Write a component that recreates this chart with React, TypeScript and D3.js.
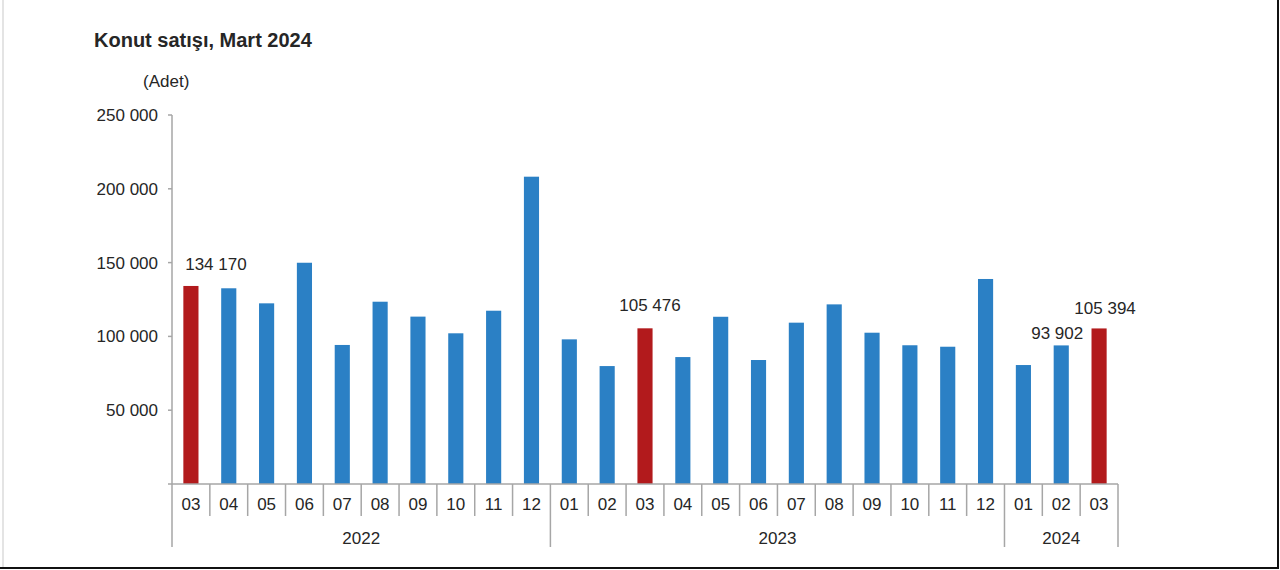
import { useEffect, useRef } from 'react';
import * as d3 from 'd3';

const months = ['03', '04', '05', '06', '07', '08', '09', '10', '11', '12',
  '01', '02', '03', '04', '05', '06', '07', '08', '09', '10', '11', '12',
  '01', '02', '03'];
const years = ['2022', '2022', '2022', '2022', '2022', '2022', '2022', '2022', '2022', '2022',
  '2023', '2023', '2023', '2023', '2023', '2023', '2023', '2023', '2023', '2023', '2023', '2023',
  '2024', '2024', '2024'];
const sales = [134170, 132600, 122400, 149900, 94200, 123500, 113400, 102100, 117400, 208200,
  98000, 79900, 105476, 86000, 113300, 84000, 109300, 121700, 102500, 94000, 93000, 138900,
  80600, 93902, 105394];
// months drawn in red (same month as the report)
const highlighted = [0, 12, 24];
// bars with a value label
const labelled = [0, 12, 23, 24];
const yTicks = [50000, 100000, 150000, 200000, 250000];

const BLUE = '#2b80c5';
const RED = '#b21a1c';
const AXIS = '#a6a6a6';
const TEXT = '#262626';
const FONT = '"Liberation Sans", Arial, sans-serif';

function App() {
  const svgRef = useRef<SVGSVGElement>(null);

  useEffect(() => {
    if (!svgRef.current) return;
    const svg = d3.select(svgRef.current);
    svg.selectAll('*').remove();

    const width = 1280;
    const height = 570;
    const left = 172;
    const right = 1118;
    const top = 115;
    const bottom = 484;

    svg.attr('viewBox', `0 0 ${width} ${height}`);

    svg.append('rect').attr('width', width).attr('height', height).attr('fill', '#fff');

    // frame edges
    svg.append('line').attr('x1', 3).attr('x2', 3).attr('y1', 0).attr('y2', 567)
      .attr('stroke', '#e4e4e4').attr('stroke-width', 2);
    svg.append('line').attr('x1', 0).attr('x2', 1279).attr('y1', 568).attr('y2', 568)
      .attr('stroke', '#111').attr('stroke-width', 2);
    svg.append('line').attr('x1', 1278).attr('x2', 1278).attr('y1', 0).attr('y2', 569)
      .attr('stroke', '#111').attr('stroke-width', 2);

    const idx = months.map((_, i) => String(i));
    const x = d3.scaleBand<string>().domain(idx).range([left, right]).paddingInner(0.6).paddingOuter(0.3);
    const step = x.step();
    const y = d3.scaleLinear().domain([0, 250000]).range([bottom, top]);
    const fmt = (v: number) => d3.format(',')(v).replace(/,/g, ' ');

    // title
    svg.append('text').attr('x', 94).attr('y', 47)
      .attr('font-family', FONT).attr('font-size', 20).attr('font-weight', 'bold')
      .attr('fill', TEXT).text('Konut satışı, Mart 2024');
    svg.append('text').attr('x', 143).attr('y', 87)
      .attr('font-family', FONT).attr('font-size', 17)
      .attr('fill', TEXT).text('(Adet)');

    // y axis
    svg.append('line').attr('x1', left).attr('x2', left).attr('y1', y(250000)).attr('y2', bottom)
      .attr('stroke', AXIS).attr('stroke-width', 1.5);
    const ticks = svg.append('g');
    ticks.selectAll('line').data(yTicks).enter().append('line')
      .attr('x1', left - 4).attr('x2', left).attr('y1', d => y(d)).attr('y2', d => y(d))
      .attr('stroke', AXIS).attr('stroke-width', 1.5);
    ticks.selectAll('text').data(yTicks).enter().append('text')
      .attr('x', left - 14).attr('y', d => y(d)).attr('dy', '0.35em')
      .attr('text-anchor', 'end').attr('font-family', FONT).attr('font-size', 17)
      .attr('fill', TEXT).text(d => fmt(d));

    // bars
    svg.append('g').selectAll('rect').data(sales).enter().append('rect')
      .attr('x', (_, i) => x(String(i))!)
      .attr('y', d => y(d))
      .attr('width', x.bandwidth())
      .attr('height', d => bottom - y(d))
      .attr('fill', (_, i) => (highlighted.includes(i) ? RED : BLUE));

    // x axis base line
    svg.append('line').attr('x1', left - 4).attr('x2', right).attr('y1', bottom).attr('y2', bottom)
      .attr('stroke', AXIS).attr('stroke-width', 1.5);

    // month separators and labels
    const edges = d3.range(months.length + 1);
    svg.append('g').selectAll('line').data(edges).enter().append('line')
      .attr('x1', i => left + i * step).attr('x2', i => left + i * step)
      .attr('y1', bottom)
      .attr('y2', i => (i === 0 || i === months.length || years[i] !== years[i - 1] ? 547 : 516))
      .attr('stroke', AXIS).attr('stroke-width', 1.5);
    svg.append('g').selectAll('text').data(months).enter().append('text')
      .attr('x', (_, i) => x(String(i))! + x.bandwidth() / 2)
      .attr('y', 510).attr('text-anchor', 'middle')
      .attr('font-family', FONT).attr('font-size', 17).attr('fill', TEXT)
      .text(d => d);

    // year labels
    const yearGroups = d3.groups(years.map((yr, i) => ({ yr, i })), d => d.yr);
    svg.append('g').selectAll('text').data(yearGroups).enter().append('text')
      .attr('x', ([, items]) => left + ((items[0].i + items[items.length - 1].i + 1) / 2) * step)
      .attr('y', 544).attr('text-anchor', 'middle')
      .attr('font-family', FONT).attr('font-size', 17).attr('fill', TEXT)
      .text(([yr]) => yr);

    // value labels
    const labelShift: Record<number, [number, number]> = {
      0: [25, -16], 12: [5, -17], 23: [-4, -6], 24: [6, -14],
    };
    svg.append('g').selectAll('text').data(labelled).enter().append('text')
      .attr('x', i => x(String(i))! + x.bandwidth() / 2 + labelShift[i][0])
      .attr('y', i => y(sales[i]) + labelShift[i][1])
      .attr('text-anchor', 'middle')
      .attr('font-family', FONT).attr('font-size', 17)
      .attr('fill', TEXT)
      .text(i => fmt(sales[i]));
  }, []);

  return (
    <svg ref={svgRef} width={1280} height={570}
      style={{ position: 'absolute', left: 0, top: 0, display: 'block' }} />
  );
}

export default App;
